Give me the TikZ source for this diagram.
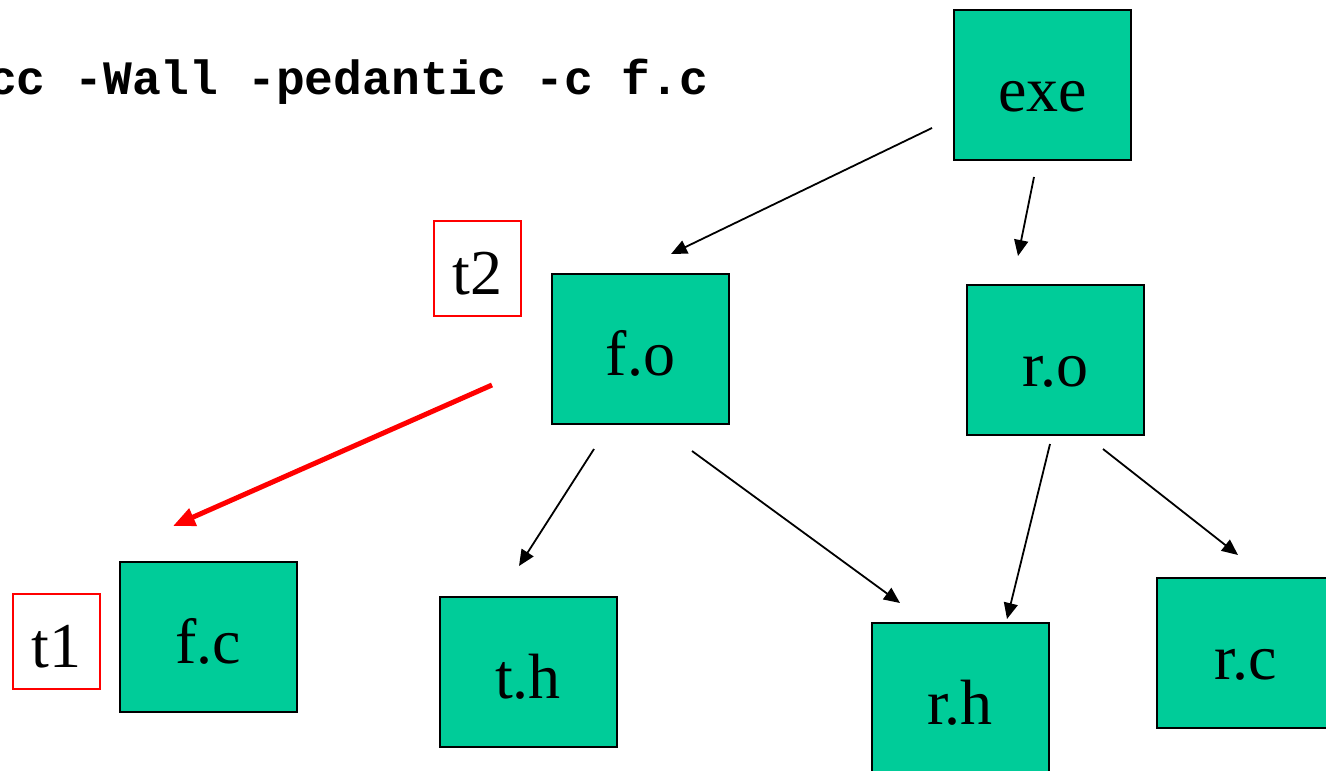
\documentclass[tikz,border=0pt]{standalone}
\usepackage{fontspec}
\setmainfont{Liberation Serif}
\setmonofont{Liberation Mono}
\usetikzlibrary{arrows.meta,positioning}
\definecolor{filegreen}{RGB}{0,204,153}

\tikzset{
	file/.style = {draw=black, line width=2pt, fill=filegreen, shape=rectangle,
		minimum width=177pt, minimum height=150pt, text height=52pt, text depth=0pt,
		font=\fontsize{64}{70}\selectfont},
	stamp/.style = {draw=red, line width=2pt, fill=white, shape=rectangle,
		minimum width=87pt, minimum height=95pt, inner sep=0pt, text height=52pt, text depth=0pt,
		font=\fontsize{64}{70}\selectfont},
	dep/.style = {-{Triangle[length=16pt,width=14pt]}, line width=1.8pt, black},
	stale/.style = {-{Triangle[length=22pt,width=18pt]}, line width=5pt, red}
}

\begin{document}
\begin{tikzpicture}[x=1pt, y=-1pt]
	\useasboundingbox (0,0) rectangle (1326,771);

	\node[anchor=base west, inner sep=0pt, font=\fontsize{48}{52}\selectfont\ttfamily\bfseries] (cmd) at (-12,94) {cc -Wall -pedantic -c f.c};

	\node[file] (exe) at (1042.5,85) {exe};
	\node[file] (fo) at (640.5,349) {f.o};
	\node[file] (ro) at (1055.5,360) {r.o};
	\node[file] (fc) at (208,637) {f.c};
	\node[file] (th) at (528,672) {t.h};
	\node[file] (rh) at (960,698) {r.h};
	\node[file] (rc) at (1245.5,653) {r.c};

	\node[stamp] (t2) at (477.5,268.5) {t2};
	\node[stamp] (t1) at (56.5,641.5) {t1};

	% dependencies
	\draw[dep] ([shift={(-21,43)}]exe.west) -- ([shift={(30.5,-19)}]fo.north);
	\draw[dep] ([shift={(-8.5,16)}]exe.south) -- ([shift={(-37.5,-28)}]ro.north);
	\draw[dep] ([shift={(-46.5,24)}]fo.south) -- ([shift={(-9,-30)}]th.north);
	\draw[dep] ([shift={(51.5,26)}]fo.south) -- ([shift={(-60,-19)}]rh.north);
	\draw[dep] ([shift={(-5.5,8)}]ro.south) -- ([shift={(47,-3)}]rh.north);
	\draw[dep] ([shift={(47.5,13)}]ro.south) -- ([shift={(-7.5,-22)}]rc.north);

	\draw[stale] ([shift={(-59,36)}]fo.west) -- ([shift={(-35,-35)}]fc.north);
\end{tikzpicture}
\end{document}
